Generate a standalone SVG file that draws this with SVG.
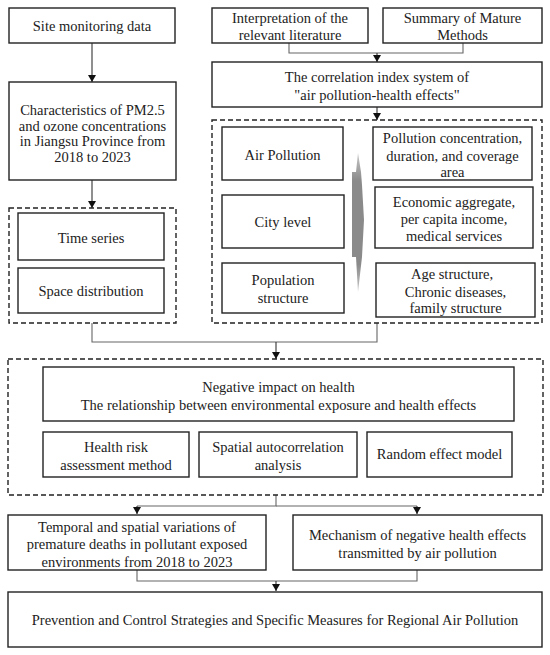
<svg xmlns="http://www.w3.org/2000/svg" width="550" height="655" viewBox="0 0 550 655" font-family="'Liberation Serif', 'Times New Roman', 'DejaVu Serif', serif">
<defs>
<style>
.box{fill:#fff;stroke:#222;stroke-width:1.4}
.dash{fill:none;stroke:#222;stroke-width:1.4;stroke-dasharray:5,3}
.con{fill:none;stroke:#666;stroke-width:1.1}
.arr{fill:none;stroke:#333;stroke-width:1.1;marker-end:url(#ah)}
text{font-family:'Liberation Serif','Times New Roman','DejaVu Serif',serif;font-size:14.5px;fill:#222;text-anchor:middle}
</style>
<marker id="ah" markerWidth="8" markerHeight="8" refX="7" refY="4" orient="auto" markerUnits="userSpaceOnUse">
<path d="M0,0 L7,4 L0,8 Z" fill="#111"/>
</marker>
<linearGradient id="gg" x1="0" y1="0" x2="0" y2="1">
<stop offset="0" stop-color="#c8c8c8"/>
<stop offset="0.2" stop-color="#8a8a8a"/>
<stop offset="0.8" stop-color="#8a8a8a"/>
<stop offset="1" stop-color="#c8c8c8"/>
</linearGradient>
</defs>
<rect width="550" height="655" fill="#fff"/>

<g id="connectors">
<path class="arr" d="M92,43 V82"/>
<path class="arr" d="M92,180 V208"/>
<path class="con" d="M289,43 V53 H463 V43"/>
<path class="arr" d="M377,53 V62"/>
<path class="arr" d="M377,107 V120"/>
<path class="con" d="M92,323 V342 H377 V323"/>
<path class="arr" d="M276,342 V359"/>
<path class="con" d="M276,495 V506 H137"/>
<path class="con" d="M276,506 H417"/>
<path class="arr" d="M137,506 V514"/>
<path class="arr" d="M417,506 V514"/>
<path class="con" d="M137,570 V581 H417 V570"/>
<path class="arr" d="M276,581 V591"/>
</g>

<g id="group-left"><rect class="dash" x="9" y="208" width="167" height="115"/></g>
<g id="group-right"><rect class="dash" x="212" y="120" width="330" height="203"/></g>
<g id="group-bottom"><rect class="dash" x="8" y="359" width="535" height="136"/></g>

<g id="site"><rect class="box" x="9" y="8" width="166" height="35"/><text x="92" y="30.5">Site monitoring data</text></g>
<g id="characteristics"><rect class="box" x="9" y="82" width="167" height="98"/>
<text x="92.5" y="115">Characteristics of PM2.5</text>
<text x="92.5" y="130.5">and ozone concentrations</text>
<text x="92.5" y="146">in Jiangsu Province from</text>
<text x="92.5" y="162">2018  to 2023</text></g>
<g id="interp"><rect class="box" x="212" y="8" width="156" height="35"/>
<text x="290" y="23">Interpretation of the</text>
<text x="290" y="40">relevant literature</text></g>
<g id="summary"><rect class="box" x="383" y="8" width="159" height="35"/>
<text x="462.5" y="23">Summary of Mature</text>
<text x="462.5" y="40">Methods</text></g>
<g id="correlation"><rect class="box" x="212" y="62" width="330" height="45"/>
<text x="377" y="82">The correlation index system of</text>
<text x="377" y="100">"air pollution-health effects"</text></g>
<g id="air-pollution"><rect class="box" x="222" y="127" width="121" height="53"/><text x="282.5" y="160">Air Pollution</text></g>
<g id="city-level"><rect class="box" x="222" y="195" width="122" height="53"/><text x="283" y="227">City level</text></g>
<g id="population"><rect class="box" x="222" y="263" width="122" height="50"/>
<text x="283" y="285">Population</text><text x="283" y="303">structure</text></g>
<g id="arrow-shape"><path d="M358,153 L361,172 L362,185 L364,220 L362,257 L358,292 L356,257 L352,257 L352,172 L356,172 Z" fill="url(#gg)"/></g>
<g id="pollution-conc"><rect class="box" x="373" y="127" width="159" height="53"/>
<text x="452.5" y="143">Pollution concentration,</text>
<text x="452.5" y="161">duration, and coverage</text>
<text x="452.5" y="177">area</text></g>
<g id="economic"><rect class="box" x="375" y="187" width="158" height="61"/>
<text x="454" y="207">Economic aggregate,</text>
<text x="454" y="224">per capita income,</text>
<text x="454" y="241">medical services</text></g>
<g id="age"><rect class="box" x="376" y="263" width="159" height="54"/>
<text x="452" y="279">Age structure,</text>
<text x="455.5" y="297">Chronic diseases,</text>
<text x="455.5" y="313">family structure</text></g>
<g id="time-series"><rect class="box" x="18" y="213" width="146" height="47"/><text x="91" y="243">Time series</text></g>
<g id="space"><rect class="box" x="18" y="268" width="146" height="45"/><text x="91" y="296">Space distribution</text></g>
<g id="negative"><rect class="box" x="43" y="367" width="471" height="54"/>
<text x="278.5" y="392">Negative impact on health</text>
<text x="278.5" y="410">The relationship between environmental exposure and health effects</text></g>
<g id="health-risk"><rect class="box" x="43" y="432" width="146" height="45"/>
<text x="116" y="452">Health risk</text><text x="116" y="470">assessment method</text></g>
<g id="spatial"><rect class="box" x="199" y="432" width="158" height="45"/>
<text x="278" y="452">Spatial autocorrelation</text><text x="278" y="470">analysis</text></g>
<g id="random"><rect class="box" x="367" y="432" width="145" height="45"/><text x="439.5" y="459">Random effect model</text></g>
<g id="temporal"><rect class="box" x="8" y="515" width="258" height="55"/>
<text x="137" y="532">Temporal and spatial variations of</text>
<text x="137" y="549">premature deaths in pollutant exposed</text>
<text x="137" y="567">environments from 2018  to 2023</text></g>
<g id="mechanism"><rect class="box" x="293" y="515" width="249" height="55"/>
<text x="417.5" y="540">Mechanism of negative health effects</text>
<text x="417.5" y="558">transmitted by air pollution</text></g>
<g id="prevention"><rect class="box" x="8" y="592" width="534" height="55"/>
<text x="275" y="625">Prevention and Control Strategies and Specific Measures for Regional Air Pollution</text></g>
</svg>
